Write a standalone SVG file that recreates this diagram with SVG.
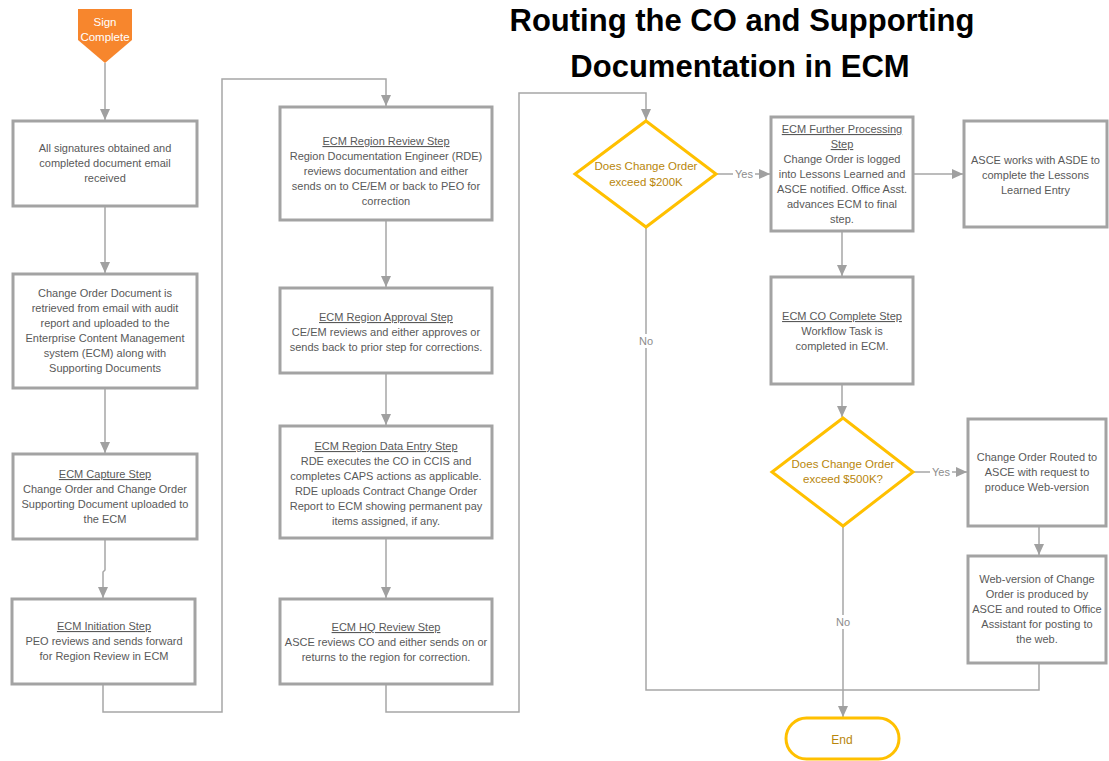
<svg xmlns="http://www.w3.org/2000/svg" width="1109" height="761" viewBox="0 0 1109 761">
<style>
.box{fill:#fff;stroke:#a3a3a3;stroke-width:3}
.dia{fill:#fff;stroke:#ffc000;stroke-width:3}
.t{font-family:"Liberation Sans",Arial,sans-serif;font-size:11px;fill:#595959;text-anchor:middle}
.dt{font-family:"Liberation Sans",Arial,sans-serif;font-size:11.5px;fill:#b8860b;text-anchor:middle}
.u{text-decoration:underline}
.c{fill:none;stroke:#a6a6a6;stroke-width:1.5}
.lbl{font-family:"Liberation Sans",Arial,sans-serif;font-size:11px;fill:#8c8c8c;text-anchor:middle}
.title{font-family:"Liberation Sans",Arial,sans-serif;font-weight:bold;font-size:31px;fill:#000;text-anchor:middle}
</style>
<defs>
<marker id="ah" markerUnits="userSpaceOnUse" markerWidth="12" markerHeight="12" viewBox="0 0 12 12" refX="11" refY="6" orient="auto">
<path d="M0,1 L11,6 L0,11 Z" fill="#a0a0a0"/>
</marker>
</defs>
<rect width="1109" height="761" fill="#fff"/>
<g id="title">
<text class="title" x="742" y="31">Routing the CO and Supporting</text>
<text class="title" x="740" y="77">Documentation in ECM</text>
</g>
<g id="connectors">
<path class="c" d="M105 63 V120" marker-end="url(#ah)"/>
<path class="c" d="M105 206 V273" marker-end="url(#ah)"/>
<path class="c" d="M105 388 V453" marker-end="url(#ah)"/>
<path class="c" d="M105 539 V570 L103 572 V598" marker-end="url(#ah)"/>
<path class="c" d="M103 684 V712 H222 V79 H386 V106" marker-end="url(#ah)"/>
<path class="c" d="M386 220 V287" marker-end="url(#ah)"/>
<path class="c" d="M386 373 V425" marker-end="url(#ah)"/>
<path class="c" d="M386 538 V598" marker-end="url(#ah)"/>
<path class="c" d="M386 684 V712 H519 V93 H646 V120" marker-end="url(#ah)"/>
<path class="c" d="M716 174 H770" marker-end="url(#ah)"/>
<path class="c" d="M913 174 H963" marker-end="url(#ah)"/>
<path class="c" d="M842 231 V276" marker-end="url(#ah)"/>
<path class="c" d="M842 384 V417" marker-end="url(#ah)"/>
<path class="c" d="M913 472 H967" marker-end="url(#ah)"/>
<path class="c" d="M1039 526 V555" marker-end="url(#ah)"/>
<path class="c" d="M646 227 V690 H842"/>
<path class="c" d="M1039 663 V690 H842"/>
<path class="c" d="M843 526 V717" marker-end="url(#ah)"/>
<rect x="733" y="167" width="22" height="14" fill="#fff"/>
<text class="lbl" x="744" y="178">Yes</text>
<rect x="930" y="465" width="22" height="14" fill="#fff"/>
<text class="lbl" x="941" y="476">Yes</text>
<rect x="636" y="334" width="20" height="14" fill="#fff"/>
<text class="lbl" x="646" y="345">No</text>
<rect x="833" y="615" width="20" height="14" fill="#fff"/>
<text class="lbl" x="843" y="626">No</text>
</g>
<g id="start">
<path d="M78 9 H132 V40 L105 63 L78 40 Z" fill="#f7862d"/>
<text class="t" x="105" y="26" style="fill:#fff;font-size:11.5px">Sign</text>
<text class="t" x="105" y="41" style="fill:#fff;font-size:11.5px">Complete</text>
</g>
<g id="n1">
<rect class="box" x="13" y="121" width="184" height="85"/>
<text class="t" x="105" y="152">All signatures obtained and</text>
<text class="t" x="105" y="167">completed document email</text>
<text class="t" x="105" y="182">received</text>
</g>
<g id="n2">
<rect class="box" x="13" y="274" width="184" height="114"/>
<text class="t" x="105" y="297">Change Order Document is</text>
<text class="t" x="105" y="312">retrieved from email with audit</text>
<text class="t" x="105" y="327">report and uploaded to the</text>
<text class="t" x="105" y="342">Enterprise Content Management</text>
<text class="t" x="105" y="357">system (ECM) along with</text>
<text class="t" x="105" y="372">Supporting Documents</text>
</g>
<g id="n3">
<rect class="box" x="13" y="454" width="184" height="85"/>
<text class="t u" x="105" y="478">ECM Capture Step</text>
<text class="t" x="105" y="493">Change Order and Change Order</text>
<text class="t" x="105" y="508">Supporting Document uploaded to</text>
<text class="t" x="105" y="523">the ECM</text>
</g>
<g id="n4">
<rect class="box" x="12" y="599" width="183" height="85"/>
<text class="t u" x="104" y="630">ECM Initiation Step</text>
<text class="t" x="104" y="645">PEO reviews and sends forward</text>
<text class="t" x="104" y="660">for Region Review in ECM</text>
</g>
<g id="n5">
<rect class="box" x="280" y="107" width="212" height="113"/>
<text class="t u" x="386" y="145">ECM Region Review Step</text>
<text class="t" x="386" y="160">Region Documentation Engineer (RDE)</text>
<text class="t" x="386" y="175">reviews documentation and either</text>
<text class="t" x="386" y="190">sends on to CE/EM or back to PEO for</text>
<text class="t" x="386" y="205">correction</text>
</g>
<g id="n6">
<rect class="box" x="280" y="288" width="212" height="85"/>
<text class="t u" x="386" y="321">ECM Region Approval Step</text>
<text class="t" x="386" y="336">CE/EM reviews and either approves or</text>
<text class="t" x="386" y="351">sends back to prior step for corrections.</text>
</g>
<g id="n7">
<rect class="box" x="280" y="426" width="212" height="112"/>
<text class="t u" x="386" y="450">ECM Region Data Entry Step</text>
<text class="t" x="386" y="465">RDE executes the CO in CCIS and</text>
<text class="t" x="386" y="480">completes CAPS actions as applicable.</text>
<text class="t" x="386" y="495">RDE uploads Contract Change Order</text>
<text class="t" x="386" y="510">Report to ECM showing permanent pay</text>
<text class="t" x="386" y="525">items assigned, if any.</text>
</g>
<g id="n8">
<rect class="box" x="280" y="599" width="212" height="85"/>
<text class="t u" x="386" y="631">ECM HQ Review Step</text>
<text class="t" x="386" y="646">ASCE reviews CO and either sends on or</text>
<text class="t" x="386" y="661">returns to the region for correction.</text>
</g>
<g id="d1">
<path class="dia" d="M646 121 L716 174 L646 227 L575 174 Z"/>
<text class="dt" x="646" y="170">Does Change Order</text>
<text class="dt" x="646" y="186">exceed $200K</text>
</g>
<g id="n9">
<rect class="box" x="771" y="117" width="142" height="114"/>
<text class="t u" x="842" y="133">ECM Further Processing</text>
<text class="t u" x="842" y="148">Step</text>
<text class="t" x="842" y="163">Change Order is logged</text>
<text class="t" x="842" y="178">into Lessons Learned and</text>
<text class="t" x="842" y="193">ASCE notified. Office Asst.</text>
<text class="t" x="842" y="208">advances ECM to final</text>
<text class="t" x="842" y="223">step.</text>
</g>
<g id="n10">
<rect class="box" x="964" y="121" width="143" height="106"/>
<text class="t" x="1035.5" y="164">ASCE works with ASDE to</text>
<text class="t" x="1035.5" y="179">complete the Lessons</text>
<text class="t" x="1035.5" y="194">Learned Entry</text>
</g>
<g id="n11">
<rect class="box" x="771" y="277" width="142" height="107"/>
<text class="t u" x="842" y="320">ECM CO Complete Step</text>
<text class="t" x="842" y="335">Workflow Task is</text>
<text class="t" x="842" y="350">completed in ECM.</text>
</g>
<g id="d2">
<path class="dia" d="M843 418 L913 472 L843 526 L772 472 Z"/>
<text class="dt" x="843" y="468">Does Change Order</text>
<text class="dt" x="843" y="483">exceed $500K?</text>
</g>
<g id="n12">
<rect class="box" x="968" y="419" width="138" height="107"/>
<text class="t" x="1037" y="461">Change Order Routed to</text>
<text class="t" x="1037" y="476">ASCE with request to</text>
<text class="t" x="1037" y="491">produce Web-version</text>
</g>
<g id="n13">
<rect class="box" x="968" y="556" width="138" height="107"/>
<text class="t" x="1037" y="583">Web-version of Change</text>
<text class="t" x="1037" y="598">Order is produced by</text>
<text class="t" x="1037" y="613">ASCE and routed to Office</text>
<text class="t" x="1037" y="628">Assistant for posting to</text>
<text class="t" x="1037" y="643">the web.</text>
</g>
<g id="end">
<rect x="786" y="718" width="113" height="41" rx="20.5" ry="20.5" fill="#fff" stroke="#ffc000" stroke-width="3"/>
<text class="dt" x="842" y="744" style="font-size:12px">End</text>
</g>
</svg>
